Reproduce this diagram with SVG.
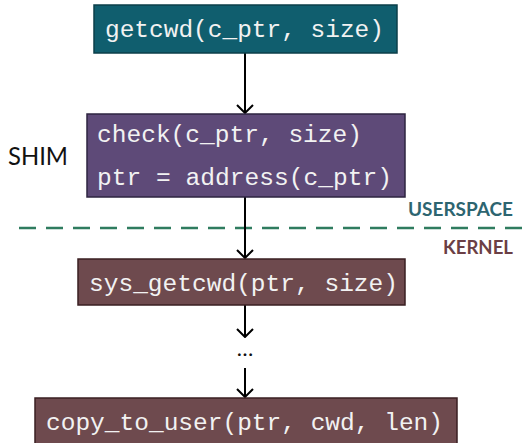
<svg xmlns="http://www.w3.org/2000/svg" width="532" height="443" viewBox="0 0 532 443">
  <style>
    .box { stroke-width: 1.5; }
    .user { fill: #105e6e; stroke: #0b3f4a; }
    .shim { fill: #5e4a78; stroke: #2e2440; }
    .kern { fill: #6e4a4e; stroke: #3a1f22; }
    .code { font-family: "Liberation Mono", "DejaVu Sans Mono", monospace; font-size: 23px; fill: #f2f2f2; }
    .edge { stroke: #000; stroke-width: 2; fill: none; }
    .label { font-family: Lato, "Open Sans", sans-serif; }
  </style>
  <defs>
    <marker id="open" viewBox="0 0 10 18" refX="9" refY="9" markerWidth="10" markerHeight="18" markerUnits="userSpaceOnUse" orient="auto">
      <path d="M1 1 L9 9 L1 17" fill="none" stroke="#000" stroke-width="2"/>
    </marker>
  </defs>
  <rect width="532" height="443" fill="#ffffff"/>

  <!-- privilege boundary -->
  <line x1="19" y1="228" x2="532" y2="228" stroke="#2f7c5f" stroke-width="2.5" stroke-dasharray="17 10"/>
  <text class="label" x="408" y="216" font-size="19" font-weight="bold" fill="#2d6570" textLength="105" lengthAdjust="spacingAndGlyphs">USERSPACE</text>
  <text class="label" x="443" y="254" font-size="19" font-weight="bold" fill="#6b3f45" textLength="70" lengthAdjust="spacingAndGlyphs">KERNEL</text>
  <text class="label" x="8" y="165" font-size="25" fill="#111" textLength="60" lengthAdjust="spacingAndGlyphs">SHIM</text>

  <g id="connectors">
    <line class="edge" x1="245" y1="53" x2="245" y2="113" marker-end="url(#open)"/>
    <line class="edge" x1="245" y1="197" x2="245" y2="258" marker-end="url(#open)"/>
    <line class="edge" x1="245" y1="305" x2="245" y2="337" marker-end="url(#open)"/>
    <line class="edge" x1="245" y1="368" x2="245" y2="397" marker-end="url(#open)"/>
  </g>
  <text class="label" x="245" y="356" text-anchor="middle" font-size="22" fill="#111">…</text>

  <g id="getcwd">
    <rect class="box user" x="94" y="5" width="303" height="48"/>
    <text class="code" x="105" y="37" textLength="279" lengthAdjust="spacingAndGlyphs">getcwd(c_ptr, size)</text>
  </g>

  <g id="shim">
    <rect class="box shim" x="87" y="114" width="318" height="83"/>
    <text class="code" x="97" y="142" textLength="265" lengthAdjust="spacingAndGlyphs">check(c_ptr, size)</text>
    <text class="code" x="97" y="185" textLength="295" lengthAdjust="spacingAndGlyphs">ptr = address(c_ptr)</text>
  </g>

  <g id="sys_getcwd">
    <rect class="box kern" x="78" y="259" width="327" height="46"/>
    <text class="code" x="89" y="291" textLength="309" lengthAdjust="spacingAndGlyphs">sys_getcwd(ptr, size)</text>
  </g>

  <g id="copy_to_user">
    <rect class="box kern" x="35" y="398" width="422" height="50"/>
    <text class="code" x="46" y="430" textLength="397" lengthAdjust="spacingAndGlyphs">copy_to_user(ptr, cwd, len)</text>
  </g>
</svg>
